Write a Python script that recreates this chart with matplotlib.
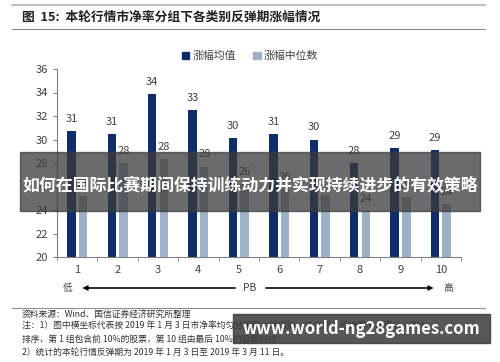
import numpy as np
import matplotlib.pyplot as plt
from matplotlib.patches import Rectangle, Patch

plt.rcParams['font.family'] = ['Noto Sans CJK SC', 'DejaVu Sans']

# data
groups = ['1', '2', '3', '4', '5', '6', '7', '8', '9', '10']
mean_rise = [30.7, 30.5, 33.85, 32.5, 30.1, 30.5, 30.0, 28.0, 29.25, 29.1]
median_rise = [25.2, 28.0, 28.3, 27.7, 26.2, 25.8, 25.3, 23.9, 25.1, 24.5]
mean_labels = ['31', '31', '34', '33', '30', '31', '30', '28', '29', '29']
median_labels = ['25', '28', '28', '28', '26', '26', '25', '24', '25', '24']

title = '图  15:  本轮行情市净率分组下各类别反弹期涨幅情况'
notes = [
    '资料来源：Wind、国信证券经济研究所整理',
    '注：1）图中横坐标代表按 2019 年 1 月 3 日市净率均匀分组后小组组别，将全部 A 股按照市净率从小到大',
    '排序，第 1 组包含前 10%的股票，第 10 组由最后 10%的股票构成；',
    '2）统计的本轮行情反弹期为 2019 年 1 月 3 日至 2019 年 3 月 11 日。',
]
banner = '如何在国际比赛期间保持训练动力并实现持续进步的有效策略'
watermark = 'www.world-ng28games.com'

dark = '#0f2d6b'
light = '#9fb1c7'
grey = '#404040'

fig = plt.figure(figsize=(5, 3.62), dpi=100)
W, H = 500, 362

def fx(px):
    return px / W

def fy(py):
    return 1 - py / H

# header lines and title
fig.add_artist(plt.Line2D([fx(12), fx(485)], [fy(5), fy(5)], color='#b0b0b0', lw=1.2))
fig.add_artist(plt.Line2D([fx(12), fx(485)], [fy(29), fy(29)], color='#909090', lw=0.8))
fig.text(fx(22), fy(17), title, fontsize=9.2, fontweight='bold', color='#222222', va='center')

ax = fig.add_axes([fx(57), fy(257), fx(461) - fx(57), fy(69) - fy(257)])
x = np.arange(1, len(groups) + 1)
w = 0.21
off = 0.145
ax.bar(x - off, mean_rise, w, color=dark, label='涨幅均值')
ax.bar(x + off, median_rise, w, color=light, label='涨幅中位数')
for xi, v, s in zip(x, mean_rise, mean_labels):
    ax.text(xi - off, v + 0.6, s, ha='center', va='bottom', fontsize=8, color=grey)
for xi, v, s in zip(x, median_rise, median_labels):
    ax.text(xi + off, v + 0.6, s, ha='center', va='bottom', fontsize=8, color=grey)

ax.set_ylim(20, 36)
ax.set_yticks(np.arange(20, 37, 2))
ax.set_xlim(0.5, 10.5)
ax.set_xticks(x)
ax.set_xticklabels(groups)
ax.set_xticks(np.arange(0.5, 11, 1), minor=True)
ax.tick_params(axis='x', which='major', length=0, labelsize=8, labelcolor=grey, pad=6)
ax.tick_params(axis='x', which='minor', length=3, color='#808080', direction='out')
ax.tick_params(axis='y', length=3, color='#808080', labelsize=8, labelcolor=grey)
for s in ['top', 'right']:
    ax.spines[s].set_visible(False)
ax.spines['left'].set_color('#808080')
ax.spines['bottom'].set_color('#808080')

fig.legend(handles=[Patch(color=dark, label='涨幅均值'), Patch(color=light, label='涨幅中位数')],
           loc='center', bbox_to_anchor=(fx(250), fy(56)), ncol=2, frameon=False,
           fontsize=7.8, handlelength=0.7, handleheight=0.7, handletextpad=0.3,
           columnspacing=1.6, labelcolor=grey)

# PB arrow row
fig.text(fx(68), fy(288), '低', fontsize=7, color=grey, ha='center', va='center')
fig.text(fx(250), fy(288), 'PB', fontsize=7.5, color=grey, ha='center', va='center')
fig.text(fx(448), fy(288), '高', fontsize=7, color=grey, ha='center', va='center')
fig.add_artist(plt.annotate('', xy=(fx(80), fy(288)), xytext=(fx(238), fy(288)),
                            xycoords='figure fraction',
                            arrowprops=dict(arrowstyle='-|>', color='black', lw=0.8,
                                            mutation_scale=7)))
fig.add_artist(plt.annotate('', xy=(fx(436), fy(288)), xytext=(fx(263), fy(288)),
                            xycoords='figure fraction',
                            arrowprops=dict(arrowstyle='-|>', color='black', lw=0.8,
                                            mutation_scale=7)))
fig.add_artist(plt.Line2D([fx(12), fx(485)], [fy(308), fy(308)], color='#909090', lw=0.8))

for i, line in enumerate(notes):
    fig.text(fx(22), fy(314 + 12.7 * i), line, fontsize=6.3, color='#333333', va='center')

# overlays on top of the chart
fig.add_artist(Rectangle((fx(20), fy(211)), fx(480) - fx(20), fy(152) - fy(211),
                         transform=fig.transFigure, color='#3a3a3a', alpha=0.75, zorder=10))
fig.text(fx(250), fy(186), banner, fontsize=12.2, fontweight='bold', color='white',
         ha='center', va='center', zorder=11)
fig.add_artist(Rectangle((fx(233), fy(343)), fx(490) - fx(233), fy(314) - fy(343),
                         transform=fig.transFigure, color='#3a3a3a', alpha=0.85, zorder=10))
fig.text(fx(361), fy(329), watermark, fontsize=12, fontweight='bold', color='white',
         ha='center', va='center', zorder=11)

fig.savefig('out.png', dpi=100)
